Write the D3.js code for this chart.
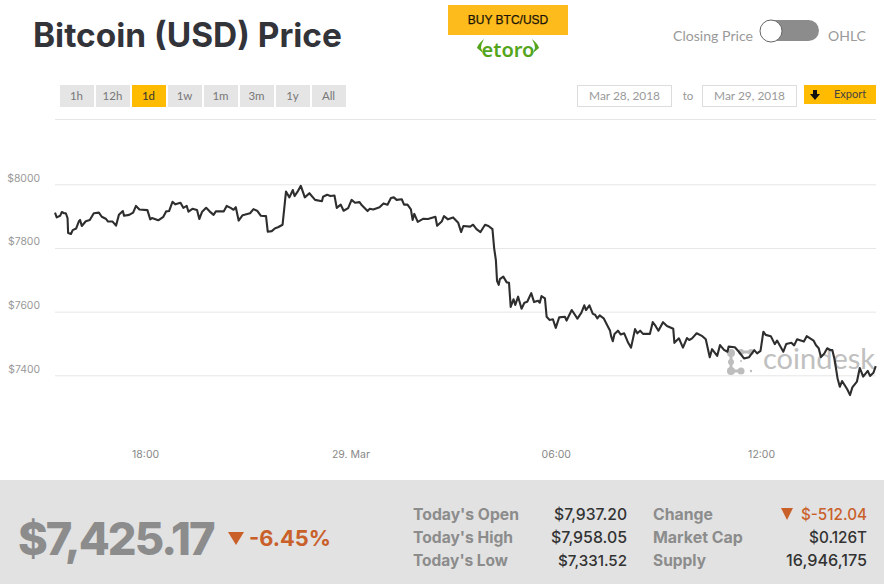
<!DOCTYPE html>
<html><head><meta charset="utf-8">
<script src="https://cdn.jsdelivr.net/npm/d3@7/dist/d3.min.js"></script>
<style>html,body{margin:0;padding:0;background:#fff;overflow:hidden}svg{display:block}text{font-family:Inter,Lato,sans-serif}</style>
</head><body><svg id="c" width="884" height="584"></svg>
<script>
// minutes since 28 Mar 15:22
const minutes=[0,3,9,12,16,19,22,23,28,31,37,42,44,47,54,61,68,77,82,89,93,101,107,112,119,121,130,137,142,148,162,167,170,181,190,195,200,206,211,220,225,231,234,241,249,253,258,265,271,278,282,296,301,308,313,317,322,329,342,348,355,361,370,373,380,386,391,399,405,411,417,420,425,431,438,446,456,468,470,477,483,490,494,501,506,514,520,526,534,538,548,552,558,569,576,583,589,594,599,608,612,618,624,627,630,636,646,654,667,670,678,682,689,698,707,712,716,728,733,739,746,754,760,767,770,773,775,778,780,786,792,796,799,804,807,812,818,823,828,835,840,847,850,853,859,862,867,873,878,884,894,897,906,916,923,928,931,937,943,947,951,955,962,970,973,975,978,981,987,992,998,1005,1010,1017,1021,1026,1031,1043,1048,1053,1058,1066,1073,1084,1086,1094,1101,1108,1112,1117,1125,1135,1141,1148,1152,1161,1166,1173,1179,1181,1192,1199,1208,1217,1226,1231,1237,1242,1246,1255,1262,1266,1277,1282,1291,1296,1301,1313,1318,1330,1334,1339,1343,1349,1354,1359,1363,1367,1372,1376,1380,1389,1394,1398,1406,1411,1417,1425,1429,1435,1439];
const prices=[7911,7896,7901,7913,7909,7909,7894,7847,7844,7856,7861,7884,7888,7869,7884,7888,7909,7911,7898,7892,7883,7883,7870,7904,7916,7901,7904,7911,7932,7921,7919,7890,7894,7887,7898,7915,7916,7945,7937,7942,7926,7932,7914,7923,7919,7891,7914,7926,7915,7904,7915,7915,7932,7926,7920,7928,7886,7903,7909,7922,7916,7901,7900,7851,7853,7862,7865,7873,7977,7959,7982,7963,7976,7995,7959,7972,7951,7947,7961,7967,7963,7965,7926,7936,7917,7925,7951,7942,7944,7934,7916,7923,7921,7928,7940,7936,7957,7959,7951,7953,7936,7936,7921,7888,7907,7882,7892,7891,7898,7870,7883,7900,7890,7896,7879,7850,7869,7867,7873,7859,7850,7873,7869,7859,7799,7762,7697,7684,7702,7710,7692,7691,7615,7639,7621,7647,7609,7628,7631,7658,7630,7634,7628,7649,7642,7584,7574,7576,7549,7582,7584,7572,7605,7578,7597,7620,7605,7620,7593,7590,7579,7588,7579,7551,7541,7523,7507,7530,7540,7528,7532,7502,7487,7545,7532,7540,7530,7530,7567,7555,7540,7567,7555,7546,7502,7516,7487,7517,7511,7516,7532,7523,7513,7457,7482,7461,7495,7480,7474,7490,7488,7474,7453,7457,7479,7469,7477,7537,7527,7523,7498,7509,7474,7498,7502,7494,7513,7506,7523,7509,7495,7485,7457,7469,7485,7479,7479,7448,7391,7364,7382,7356,7338,7362,7380,7423,7396,7414,7398,7408,7429];
const yTicks=[7400,7600,7800,8000];
const xTickDates=["2018-03-28T18:00Z","2018-03-29T00:00Z","2018-03-29T06:00Z","2018-03-29T12:00Z"];
const xTickLabels=["18:00","29. Mar","06:00","12:00"];
const ranges=["1h","12h","1d","1w","1m","3m","1y","All"];
const statsLeft=[["Today's Open","$7,937.20"],["Today's High","$7,958.05"],["Today's Low","$7,331.52"]];
const statsRight=[["Change","$-512.04"],["Market Cap","$0.126T"],["Supply","16,946,175"]];

const svg=d3.select("#c");
const t0=Date.UTC(2018,2,28,15,22);
const times=minutes.map(m=>new Date(t0+m*60000));
const x=d3.scaleUtc().domain([new Date(t0),new Date(t0+1440*60000)]).range([55,876.3]);
const y=d3.scaleLinear().domain([7400,8000]).range([375.3,184.3]);

function txt(s,px,py,size,fill,weight,anchor){
  return svg.append("text").attr("x",px).attr("y",py).attr("font-size",size).attr("fill",fill)
   .attr("font-weight",weight||400).attr("text-anchor",anchor||"start").text(s);
}
function fit(sel,w){ // scale the font so the text is w pixels wide
  const cur=sel.node().getComputedTextLength(), fs=+sel.attr("font-size");
  return sel.attr("font-size",(fs*w/cur).toFixed(2));
}
// header
fit(txt("Bitcoin (USD) Price",33,47,33,"#33333a",700),309);
svg.append("rect").attr("x",448).attr("y",5).attr("width",120).attr("height",30).attr("fill","#fdbb1c");
txt("BUY BTC/USD",508,24,12,"#1a1408",400,"middle").attr("style","font-family:'Liberation Sans'").attr("stroke","#1a1408").attr("stroke-width",0.25);
fit(txt("etoro",508,57,20,"#55a51c",600,"middle").attr("style","font-family:'Noto Sans'"),53);
svg.append("path").attr("d","M484 39 Q478 44 477 48 L483 53 L481 48 Q481 44 484 39 Z M532 39 Q538 44 539 48 L533 53 L535 48 Q535 44 532 39 Z").attr("fill","#55a51c");
fit(txt("Closing Price",673,41,13,"#9a9a9a",400).attr("style","font-family:Lato"),80);
svg.append("rect").attr("x",761).attr("y",20).attr("width",58).attr("height",21).attr("rx",10.5).attr("fill","#8c8c8c");
svg.append("circle").attr("cx",771).attr("cy",31).attr("r",11).attr("fill","#fff").attr("stroke","#666").attr("stroke-width",1);
fit(txt("OHLC",828,41,13,"#9a9a9a",400).attr("style","font-family:Lato"),38);

// range buttons
const btn=d3.scaleBand().domain(ranges).range([60,348]).paddingInner(0.0);
ranges.forEach(r=>{
  const bx=btn(r), on=r==="1d";
  svg.append("rect").attr("x",bx).attr("y",85).attr("width",34).attr("height",22).attr("fill",on?"#ffbb00":"#e5e5e5");
  txt(r,bx+16.5,100,11.5,on?"#333":"#777",400,"middle").attr("style","font-family:Lato");
});
// date pickers
[[577,"Mar 28, 2018"],[702,"Mar 29, 2018"]].forEach(([bx,s])=>{
  svg.append("rect").attr("x",bx+.5).attr("y",85.5).attr("width",94).attr("height",21).attr("fill","#fff").attr("stroke","#ddd");
  fit(txt(s,bx+47.5,99.5,11.5,"#999",400,"middle").attr("style","font-family:Lato"),71);
});
txt("to",688,99.5,11.5,"#999",400,"middle").attr("style","font-family:Lato");
svg.append("rect").attr("x",804).attr("y",85).attr("width",72).attr("height",19).attr("fill","#ffbb00");
svg.append("path").attr("d","M813 90 h4 v4 h3 l-5 6 l-5 -6 h3 Z").attr("fill","#111");
txt("Export",834,98,11,"#444",400).attr("style","font-family:Lato");

// top rule
svg.append("line").attr("x1",55).attr("x2",876).attr("y1",119.5).attr("y2",119.5).attr("stroke","#e6e6e6");

// watermark
const wm=svg.append("g").attr("fill","#bdbdbd").attr("stroke","#bdbdbd");
wm.append("path").attr("fill","none").attr("stroke-width",3).attr("d","M731 353 L731 371 L741 371 M741 352 L751 352");
[[731,353,4],[731,362,3],[731,371,4],[741,371,3.5],[741,352,3],[751,352,3],[751,371,1.2],[741,361,1]].forEach(c=>
  wm.append("circle").attr("cx",c[0]).attr("cy",c[1]).attr("r",c[2]).attr("stroke","none"));
fit(txt("coindesk",763,369,28,"#c0c0c0",400).attr("style","font-family:Lato"),112);

// axes
const gy=svg.append("g").attr("transform","translate(55,0)").call(
  d3.axisLeft(y).tickValues(yTicks).tickSize(-821).tickPadding(15).tickFormat(d=>"$"+d));
gy.select(".domain").remove();
gy.selectAll(".tick line").attr("stroke","#e6e6e6");
gy.selectAll(".tick text").attr("fill","#999").attr("font-size",10.4).attr("dy","-0.3em").attr("font-family","Lato");

const gx=svg.append("g").attr("transform","translate(0,446)").call(
  d3.axisBottom(x).tickValues(xTickDates.map(d=>new Date(d))).tickSize(0).tickPadding(5)
    .tickFormat((d,i)=>xTickLabels[i]));
gx.select(".domain").remove();
gx.selectAll(".tick text").attr("fill","#888").attr("font-size",10.5).attr("font-family","Lato");

// series
svg.append("path").datum(prices).attr("fill","none").attr("stroke","#2e2e2e").attr("stroke-width",2.1)
  .attr("stroke-linejoin","round")
  .attr("d",d3.line().x((d,i)=>x(times[i])).y(d=>y(d)));

// footer
svg.append("rect").attr("x",0).attr("y",480).attr("width",884).attr("height",104).attr("fill","#e2e2e2");
fit(txt("$7,425.17",18,555,44,"#8c8c8c",800).attr("letter-spacing",-2),195);
svg.append("path").attr("d","M228 532 h16 l-8 13 Z").attr("fill","#c9602a");
fit(txt("-6.45%",249,546,24,"#c9602a",700),82);
const rowY=d3.scalePoint().domain([0,1,2]).range([520,566]);
const rowW=[106,100,95], rowW2=[60,90,53], valW=[73,76,69], valW2=[66,58,81];
statsLeft.forEach((r,i)=>{
  fit(txt(r[0],413,rowY(i),15,"#8c8c8c",700),rowW[i]);
  fit(txt(r[1],627,rowY(i),15,"#333",500,"end"),valW[i]);
});
statsRight.forEach((r,i)=>{
  fit(txt(r[0],653,rowY(i),15,"#8c8c8c",700),rowW2[i]);
  fit(txt(r[1],867,rowY(i),15,i===0?"#c9602a":"#333",500,"end"),valW2[i]);
});
svg.append("path").attr("d","M781 508 h12 l-6 12 Z").attr("fill","#c9602a");
</script></body></html>
